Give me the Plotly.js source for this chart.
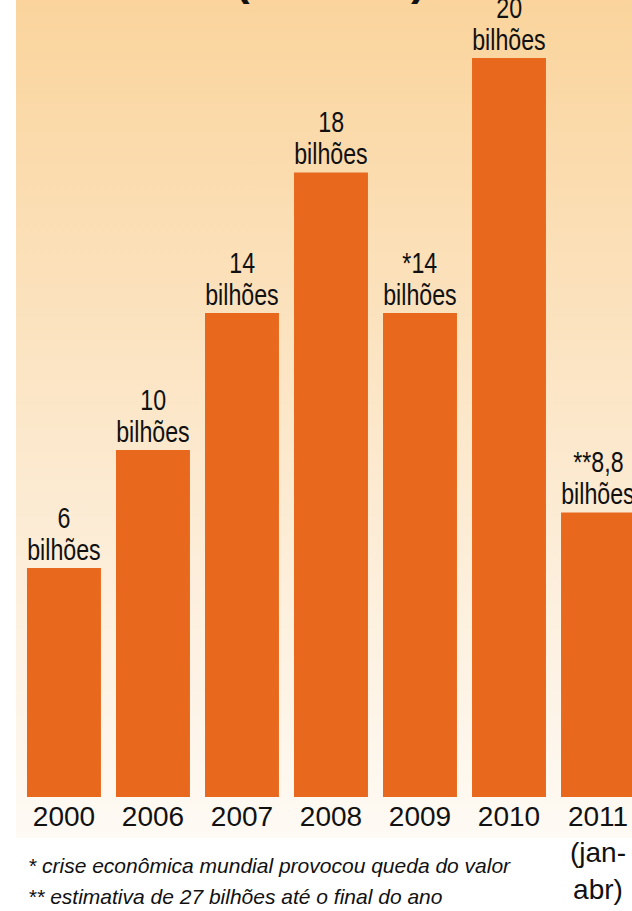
<!DOCTYPE html>
<html><head><meta charset="utf-8">
<script src="https://cdn.plot.ly/plotly-3.0.1.min.js"></script>
<style>
html,body{margin:0;padding:0;background:#fff;}
#chart{width:632px;height:911px;background:linear-gradient(to bottom,#FAD49C 0%,#FCEBD3 60%,#FEFAF4 100%) no-repeat 16px 0/616px 838px,#fff;}
</style></head><body><div id="chart"></div>
<script>
const years = ['2000','2006','2007','2008','2009','2010','2011'];
const yearLabels = ['2000','2006','2007','2008','2009','2010','2011<br>(jan-<br>abr)'];
const barHeights = [6.6, 10, 13.95, 18, 13.95, 21.3, 8.2];
const valueLabels = ['6','10','14','18','*14','20','**8,8'];
const unitLabel = 'bilhões';
const footnotes = ['* crise econômica mundial provocou queda do valor',
                   '** estimativa de 27 bilhões até o final do ano'];
const titleText = '(em US$)';

const barColor = '#E8691D';
const sans = '"Liberation Sans", Arial, Helvetica, sans-serif';

const annotations = [];
years.forEach((yr, i) => {
  annotations.push({x: i, y: barHeights[i], xref:'x', yref:'y', text: unitLabel, showarrow:false,
    yanchor:'bottom', xanchor:'center', font:{family:sans, size:29, color:'#111'}});
  annotations.push({x: i, y: barHeights[i], xref:'x', yref:'y', text: valueLabels[i], showarrow:false,
    yanchor:'bottom', xanchor:'center', yshift:32, font:{family:sans, size:29, color:'#111'}});
});
const nCondensed = annotations.length;
footnotes.forEach((t, i) => {
  annotations.push({x:0, y:0, xref:'paper', yref:'paper', text:'<i>'+t+'</i>', showarrow:false,
    xanchor:'left', yanchor:'middle', xshift:10, yshift: i===0 ? -68 : -99,
    font:{family:sans, size:21, color:'#111'}});
});
annotations.push({x:0.511, y:1, xref:'paper', yref:'paper', text:'<b>'+titleText+'</b>', showarrow:false,
  xanchor:'center', yanchor:'bottom', yshift:-6.3, font:{family:sans, size:44, color:'#111'}});

const data = [{
  type:'bar', x: years, y: barHeights,
  marker:{color: barColor, line:{width:0}},
  hoverinfo:'none'
}];

const layout = {
  width:632, height:911,
  margin:{l:16, r:0, t:0, b:114, pad:0},
  paper_bgcolor:'rgba(0,0,0,0)', plot_bgcolor:'rgba(0,0,0,0)',
  bargap: 0.169,
  showlegend:false,
  xaxis:{type:'category', range:[-0.539, 6.382], tickmode:'array', tickvals: years, ticktext: yearLabels,
    ticks:'', ticklen:0, ticklabelstandoff:0, showline:false, showgrid:false, zeroline:false,
    tickfont:{family:sans, size:28, color:'#111'}, fixedrange:true},
  yaxis:{range:[0, 22.97], visible:false, showgrid:false, zeroline:false, fixedrange:true},
  annotations: annotations
};

Plotly.newPlot('chart', data, layout, {displayModeBar:false, staticPlot:true}).then(gd => {
  // condensed look of the value labels (the reference uses a condensed face)
  gd.querySelectorAll('g.annotation').forEach(g => {
    const idx = +g.getAttribute('data-index');
    if (!(idx < nCondensed)) return;
    const t = g.querySelector('text.annotation-text');
    if (!t) return;
    const bb = t.getBBox();
    const cx = bb.x + bb.width / 2;
    t.setAttribute('transform', `translate(${cx},0) scale(0.8,1) translate(${-cx},0)`);
  });
});
</script></body></html>
